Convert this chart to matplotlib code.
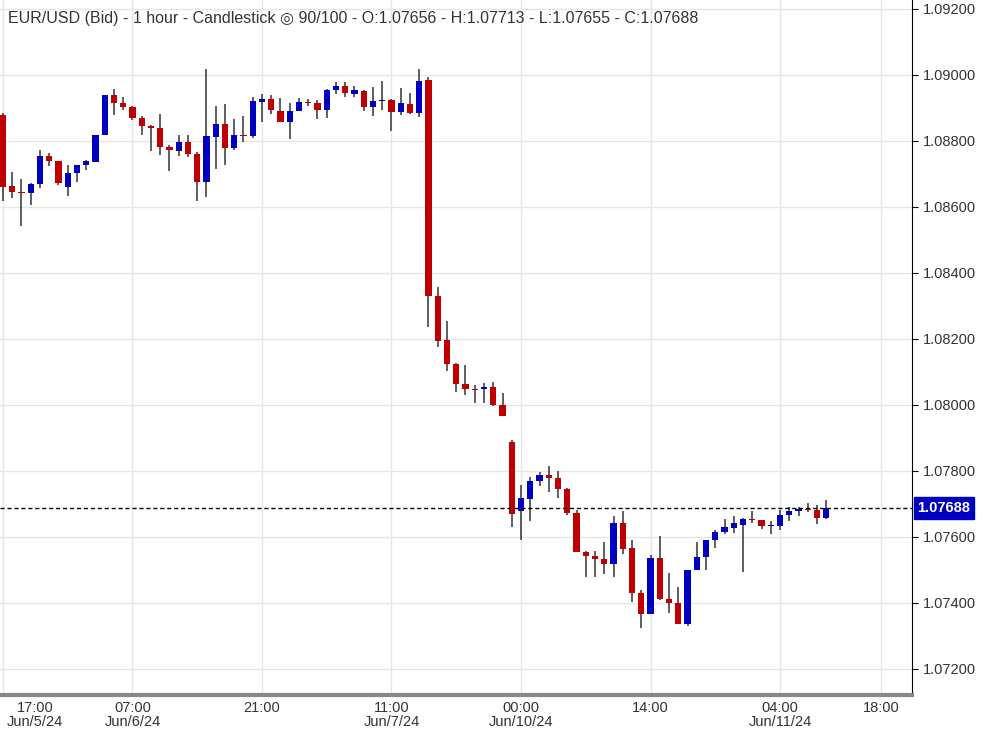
import matplotlib
matplotlib.use("Agg")
import matplotlib.pyplot as plt
import numpy as np

plt.rcParams['font.family'] = ['Liberation Sans', 'DejaVu Sans']

opens = [108879,108663,108645,108642,108669,108754,108739,108660,108703,108727,
 108736,108818,108939,108915,108903,108869,108845,108839,108782,108769,
 108797,108760,108676,108812,108851,108779,108818,108815,108918,108927,
 108891,108857,108891,108918,108915,108894,108954,108966,108942,108951,
 108903,108921,108924,108888,108912,108885,108985,108330,108197,108124,
 108063,108048,108048,108054,108000,107888,107679,107715,107769,107788,
 107779,107745,107673,107554,107542,107533,107518,107642,107566,107430,
 107367,107536,107412,107400,107336,107500,107539,107591,107615,107627,
 107636,107654,107651,107633,107633,107666,107679,107685,107682,107656]
highs = [108885,108706,108685,108672,108772,108763,108739,108727,108727,108742,
 108736,108821,108957,108933,108906,108875,108848,108882,108788,108818,
 108818,108766,109018,108906,108912,108866,108875,108933,108942,108939,
 108930,108915,108930,108927,108924,108957,108979,108979,108966,108954,
 108963,108982,108927,108960,108945,109018,108994,108357,108254,108127,
 108121,108060,108066,108069,108036,107894,107757,107782,107797,107815,
 107800,107748,107682,107557,107557,107585,107663,107679,107591,107439,
 107545,107603,107491,107448,107500,107585,107591,107621,107654,107663,
 107657,107679,107651,107648,107682,107691,107691,107703,107697,107713]
lows = [108618,108627,108542,108606,108657,108724,108666,108633,108676,108712,
 108736,108818,108879,108894,108863,108818,108769,108757,108709,108754,
 108751,108618,108630,108715,108727,108772,108797,108809,108857,108882,
 108857,108806,108891,108906,108866,108869,108942,108933,108933,108891,
 108875,108894,108830,108879,108882,108872,108236,108175,108103,108039,
 108030,108006,108006,107997,107966,107630,107591,107648,107754,107736,
 107718,107666,107554,107479,107479,107488,107479,107548,107403,107324,
 107367,107409,107370,107336,107330,107500,107500,107566,107609,107612,
 107494,107642,107624,107609,107621,107648,107663,107676,107639,107655]
closes = [108660,108645,108642,108669,108754,108739,108672,108703,108727,108739,
 108818,108939,108915,108903,108869,108845,108839,108782,108772,108797,
 108760,108676,108815,108851,108779,108818,108815,108921,108927,108894,
 108857,108891,108918,108915,108894,108954,108966,108945,108954,108903,
 108921,108924,108888,108915,108885,108982,108330,108194,108124,108063,
 108048,108045,108054,108000,107966,107669,107718,107769,107788,107779,
 107745,107673,107554,107542,107533,107518,107642,107563,107430,107367,
 107536,107412,107400,107336,107500,107539,107591,107615,107630,107642,
 107654,107651,107633,107636,107666,107679,107685,107682,107657,107688]

tick_pos = [3.46, 14, 28, 42, 56, 70, 84, 94.9]
tick_labels = ["17:00\nJun/5/24", "07:00\nJun/6/24", "21:00", "11:00\nJun/7/24",
               "00:00\nJun/10/24", "14:00", "04:00\nJun/11/24", "18:00"]
grid_pos = [0, 14, 28, 42, 56, 70, 84, 94.9]
yticks = [1.072, 1.074, 1.076, 1.078, 1.080, 1.082, 1.084, 1.086, 1.088, 1.090, 1.092]

o = np.array(opens) / 1e5; h = np.array(highs) / 1e5
l = np.array(lows) / 1e5; c = np.array(closes) / 1e5
x = np.arange(len(o))

fig = plt.figure(figsize=(9.93, 7.32), dpi=100)
ax = fig.add_axes([0, 0.0505, 912/993, 0.9495])
ax.set_xlim(-0.324, 98.27)
ax.set_ylim(1.07121, 1.09227)

for gx in grid_pos:
    ax.axvline(gx, color="#e6e6e6", lw=1, zorder=0)
for gy in yticks:
    ax.axhline(gy, color="#e6e6e6", lw=1, zorder=0)

up = c >= o
col = np.where(up, "#0000c0", "#c00000")
ax.vlines(x, l, h, color="#333333", lw=1.1, zorder=1)
bottom = np.minimum(o, c)
height = np.maximum(np.abs(c - o), 0.000012)
ax.bar(x, height, bottom=bottom, width=0.66, color=col, zorder=2)

last = c[-1]
ax.axhline(last, color="black", lw=1, ls=(0, (3, 2)), zorder=3)

ax.yaxis.tick_right()
ax.set_yticks(yticks)
ax.set_yticklabels([f"{v:.5f}" for v in yticks], fontsize=10.5, color="#333333")
ax.tick_params(axis="y", length=4, color="black", pad=4)
ax.set_xticks(tick_pos)
ax.set_xticklabels(tick_labels, fontsize=10.5, color="#333333", linespacing=1.05)
ax.tick_params(axis="x", length=0, pad=4)
for s in ["left", "top"]:
    ax.spines[s].set_visible(False)
ax.spines["right"].set_color("black")
ax.spines["bottom"].set_color("#888888")
ax.spines["bottom"].set_linewidth(3)

ax.text(1.006, last, f"{last:.5f}", transform=ax.get_yaxis_transform(),
        va="center", ha="left", fontsize=10.5, color="white", fontweight="bold",
        bbox=dict(boxstyle="square,pad=0.25", fc="#0000c0", ec="#0000c0"), clip_on=False)

fig.text(8/993, 1 - 18/732,
         "EUR/USD (Bid) - 1 hour - Candlestick \u25CE 90/100 - O:1.07656 - H:1.07713 - L:1.07655 - C:1.07688",
         fontsize=11.5, color="#333333", va="center", ha="left")

fig.savefig("out.png", dpi=100, facecolor="white")
